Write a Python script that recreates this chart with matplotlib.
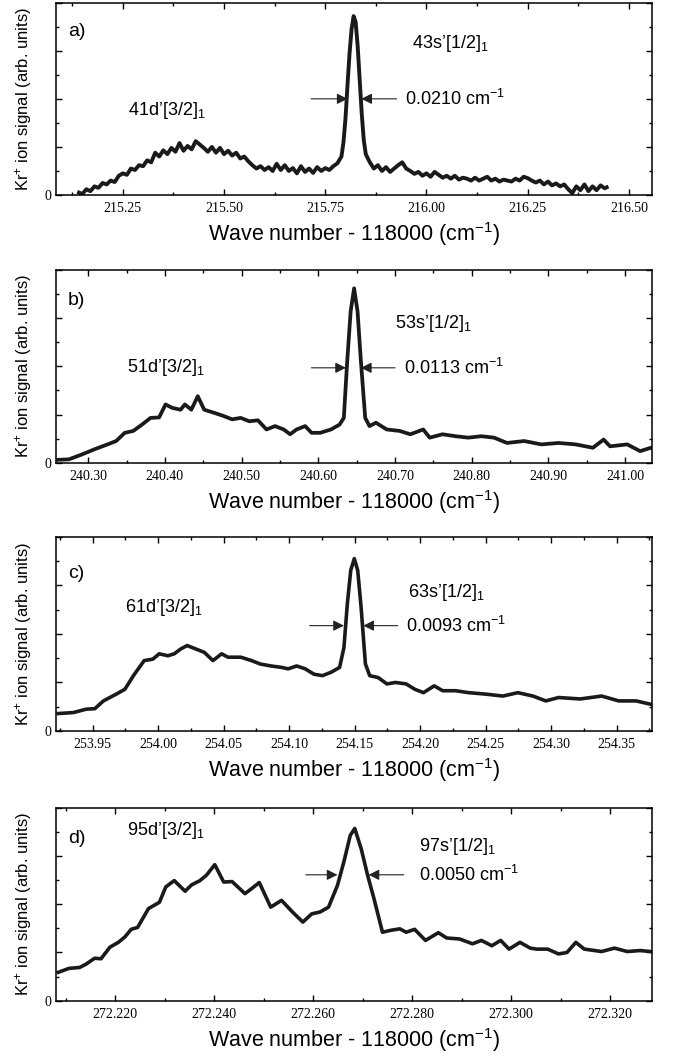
import matplotlib
matplotlib.use('Agg')
import matplotlib.pyplot as plt
from matplotlib.ticker import MultipleLocator, FormatStrFormatter

plt.rcParams['font.family'] = 'Liberation Sans'
plt.rcParams['mathtext.fontset'] = 'custom'
plt.rcParams['mathtext.rm'] = 'Liberation Sans'
plt.rcParams['mathtext.it'] = 'Liberation Sans:italic'
plt.rcParams['mathtext.bf'] = 'Liberation Sans:bold'

# ---- data (wave number - 118000, signal in arb. units) ----
x_a = [215.142, 215.15, 215.16, 215.17, 215.18, 215.19, 215.20, 215.21, 215.22, 215.23,
       215.24, 215.25, 215.26, 215.27, 215.28, 215.29, 215.30, 215.31, 215.32, 215.33,
       215.34, 215.35, 215.36, 215.37, 215.38, 215.39, 215.40, 215.41, 215.42, 215.43,
       215.44, 215.45, 215.46, 215.47, 215.48, 215.49, 215.50, 215.51, 215.52, 215.53,
       215.54, 215.55, 215.56, 215.57, 215.58, 215.59, 215.60, 215.61, 215.62, 215.63,
       215.64, 215.65, 215.66, 215.67, 215.68, 215.69, 215.70, 215.71, 215.72, 215.73,
       215.74, 215.75, 215.76, 215.77, 215.78, 215.79, 215.795, 215.80, 215.805, 215.81,
       215.815, 215.82, 215.825, 215.83, 215.835, 215.84, 215.845, 215.85, 215.86, 215.87,
       215.88, 215.89, 215.90, 215.91, 215.92, 215.93, 215.94, 215.95, 215.96, 215.97,
       215.98, 215.99, 216.00, 216.01, 216.02, 216.03, 216.04, 216.05, 216.06, 216.07,
       216.08, 216.09, 216.10, 216.11, 216.12, 216.13, 216.14, 216.15, 216.16, 216.17,
       216.18, 216.19, 216.20, 216.21, 216.22, 216.23, 216.24, 216.25, 216.26, 216.27,
       216.28, 216.29, 216.30, 216.31, 216.32, 216.33, 216.34, 216.35, 216.36, 216.37,
       216.38, 216.39, 216.40, 216.41, 216.42, 216.43, 216.44, 216.445]
y_a = [0.05, 0.02, 0.12, 0.08, 0.18, 0.15, 0.25, 0.22, 0.30, 0.27,
       0.40, 0.45, 0.42, 0.55, 0.52, 0.62, 0.60, 0.72, 0.68, 0.88,
       0.80, 0.93, 0.85, 0.98, 0.90, 1.08, 0.92, 1.02, 0.95, 1.12,
       1.05, 0.98, 0.90, 1.00, 0.88, 0.98, 0.85, 0.92, 0.82, 0.88,
       0.76, 0.80, 0.70, 0.62, 0.55, 0.60, 0.52, 0.58, 0.50, 0.65,
       0.52, 0.62, 0.50, 0.56, 0.45, 0.60, 0.48, 0.55, 0.46, 0.58,
       0.50, 0.56, 0.52, 0.60, 0.66, 0.80, 1.10, 1.60, 2.30, 2.95,
       3.45, 3.72, 3.60, 3.10, 2.40, 1.70, 1.15, 0.85, 0.68, 0.55,
       0.62, 0.50, 0.58, 0.48, 0.55, 0.62, 0.68, 0.55, 0.50, 0.44,
       0.48, 0.40, 0.45, 0.38, 0.48, 0.42, 0.36, 0.40, 0.34, 0.40,
       0.32, 0.36, 0.34, 0.30, 0.36, 0.30, 0.34, 0.38, 0.30, 0.34,
       0.28, 0.32, 0.30, 0.28, 0.34, 0.30, 0.38, 0.35, 0.30, 0.26,
       0.30, 0.22, 0.28, 0.20, 0.24, 0.18, 0.22, 0.12, 0.04, 0.18,
       0.10, 0.22, 0.08, 0.18, 0.10, 0.20, 0.14, 0.16]

x_b = [240.2608, 240.2748, 240.2916, 240.3084, 240.3252, 240.3364, 240.3476, 240.3588,
       240.3700, 240.3812, 240.3924, 240.4008, 240.4092, 240.4204, 240.4260, 240.4344,
       240.4428, 240.4512, 240.4652, 240.4764, 240.4876, 240.4988, 240.5100, 240.5212,
       240.5324, 240.5436, 240.5548, 240.5632, 240.5716, 240.5828, 240.5912, 240.6024,
       240.6164, 240.6276, 240.6332, 240.6376, 240.6421, 240.6466, 240.6511, 240.6555,
       240.6611, 240.6667, 240.6751, 240.6891, 240.7059, 240.7199, 240.7367, 240.7451,
       240.7619, 240.7787, 240.7955, 240.8123, 240.8291, 240.8459, 240.8683, 240.8907,
       240.9131, 240.9355, 240.9579, 240.9719, 240.9803, 241.0027, 241.0195, 241.0335]
y_b = [0.06, 0.07, 0.17, 0.28, 0.38, 0.45, 0.62, 0.66,
       0.79, 0.93, 0.94, 1.21, 1.14, 1.10, 1.21, 1.10,
       1.38, 1.10, 1.03, 0.97, 0.90, 0.93, 0.86, 0.88,
       0.69, 0.76, 0.69, 0.59, 0.69, 0.76, 0.62, 0.62,
       0.69, 0.79, 0.93, 2.10, 3.14, 3.62, 3.14, 2.10,
       0.93, 0.76, 0.83, 0.69, 0.66, 0.59, 0.69, 0.52,
       0.59, 0.55, 0.52, 0.55, 0.52, 0.41, 0.45, 0.38,
       0.41, 0.38, 0.31, 0.48, 0.34, 0.38, 0.24, 0.31]

x_c = [253.9238, 253.9352, 253.9451, 253.9516, 253.9582, 253.9680, 253.9746, 253.9811,
       253.9893, 253.9959, 254.0008, 254.0074, 254.0123, 254.0172, 254.0221, 254.0287,
       254.0352, 254.0418, 254.0484, 254.0533, 254.0631, 254.0713, 254.0779, 254.0861,
       254.0943, 254.0992, 254.1057, 254.1123, 254.1189, 254.1254, 254.1320, 254.1385,
       254.1418, 254.1444, 254.1470, 254.1497, 254.1523, 254.1549, 254.1582, 254.1615,
       254.1680, 254.1746, 254.1811, 254.1893, 254.1959, 254.2025, 254.2107, 254.2172,
       254.2270, 254.2369, 254.2500, 254.2631, 254.2746, 254.2861, 254.2959, 254.3057,
       254.3221, 254.3385, 254.3516, 254.3648, 254.3762]
y_c = [0.36, 0.38, 0.45, 0.46, 0.62, 0.76, 0.86, 1.14,
       1.45, 1.48, 1.59, 1.55, 1.59, 1.69, 1.76, 1.69,
       1.62, 1.45, 1.59, 1.52, 1.52, 1.45, 1.38, 1.34,
       1.31, 1.28, 1.34, 1.28, 1.17, 1.14, 1.21, 1.31,
       1.72, 2.62, 3.31, 3.55, 3.31, 2.55, 1.38, 1.14,
       1.10, 0.97, 1.00, 0.97, 0.86, 0.79, 0.93, 0.83,
       0.83, 0.79, 0.76, 0.72, 0.79, 0.72, 0.62, 0.69,
       0.66, 0.72, 0.62, 0.62, 0.55]

x_d = [272.2085, 272.2106, 272.2128, 272.2141, 272.2158, 272.2171, 272.2189, 272.2206,
       272.2219, 272.2232, 272.2245, 272.2267, 272.2289, 272.2302, 272.2319, 272.2341,
       272.2354, 272.2371, 272.2384, 272.2401, 272.2419, 272.2436, 272.2462, 272.2475,
       272.2491, 272.2514, 272.2536, 272.2558, 272.2579, 272.2597, 272.2614, 272.2631,
       272.2649, 272.2662, 272.2675, 272.2684, 272.2697, 272.2710, 272.2723, 272.2740,
       272.2757, 272.2775, 272.2788, 272.2805, 272.2827, 272.2853, 272.2870, 272.2896,
       272.2922, 272.2940, 272.2961, 272.2979, 272.2996, 272.3018, 272.3039, 272.3052,
       272.3074, 272.3096, 272.3113, 272.3131, 272.3148, 272.3183, 272.3209, 272.3235,
       272.3261, 272.3282]
y_d = [0.59, 0.67, 0.69, 0.76, 0.88, 0.87, 1.11, 1.21,
       1.32, 1.48, 1.52, 1.91, 2.04, 2.36, 2.49, 2.27,
       2.40, 2.49, 2.60, 2.82, 2.46, 2.47, 2.22, 2.32,
       2.45, 1.94, 2.08, 1.84, 1.63, 1.80, 1.84, 1.94,
       2.39, 2.88, 3.43, 3.57, 3.15, 2.60, 2.11, 1.42,
       1.46, 1.49, 1.42, 1.48, 1.25, 1.41, 1.30, 1.28,
       1.18, 1.25, 1.14, 1.25, 1.07, 1.21, 1.09, 1.07,
       1.07, 0.97, 1.00, 1.21, 1.07, 1.02, 1.09, 1.02,
       1.04, 1.02]

panels = [
    dict(x=x_a, y=y_a, xlim=(215.085, 216.557), major=0.25, minor=0.125, fmt='%.2f',
         tag='a)', tag_y=0.85, broad="41d’[3/2]$_1$", broad_xy=(215.263, 1.75),
         sharp="43s’[1/2]$_1$", sharp_xy=(215.963, 3.15),
         arrow_y=2.0, left=(215.715, 215.805), right=(215.839, 215.926),
         width_txt='0.0210 cm$^{-1}$', width_x=215.947, lw=2.8,
         rect=[0.0831, 0.8162, 0.8843, 0.1813]),
    dict(x=x_b, y=y_b, xlim=(240.258, 241.035), major=0.1, minor=0.05, fmt='%.2f',
         tag='b)', tag_y=0.84, broad="51d’[3/2]$_1$", broad_xy=(240.35, 1.97),
         sharp="53s’[1/2]$_1$", sharp_xy=(240.70, 2.9),
         arrow_y=1.97, left=(240.591, 240.636), right=(240.6555, 240.70),
         width_txt='0.0113 cm$^{-1}$', width_x=240.712, lw=2.7,
         rect=[0.0831, 0.5639, 0.8843, 0.1816]),
    dict(x=x_c, y=y_c, xlim=(253.922, 254.377), major=0.05, minor=0.025, fmt='%.2f',
         tag='c)', tag_y=0.81, broad="61d’[3/2]$_1$", broad_xy=(253.975, 2.55),
         sharp="63s’[1/2]$_1$", sharp_xy=(254.191, 2.86),
         arrow_y=2.17, left=(254.1156, 254.1418), right=(254.1566, 254.1828),
         width_txt='0.0093 cm$^{-1}$', width_x=254.189, lw=2.6,
         rect=[0.0831, 0.3110, 0.8843, 0.1831]),
    dict(x=x_d, y=y_d, xlim=(272.208, 272.3285), major=0.02, minor=0.01, fmt='%.3f',
         tag='d)', tag_y=0.84, broad="95d’[3/2]$_1$", broad_xy=(272.2223, 3.53),
         sharp="97s’[1/2]$_1$", sharp_xy=(272.2814, 3.19),
         arrow_y=2.61, left=(272.2585, 272.2649), right=(272.2712, 272.2783),
         width_txt='0.0050 cm$^{-1}$', width_x=272.2814, lw=2.6,
         rect=[0.0831, 0.0568, 0.8843, 0.1819]),
]

fig = plt.figure(figsize=(6.74, 10.61), dpi=100)

for p in panels:
    ax = fig.add_axes(p['rect'])
    ax.plot(p['x'], p['y'], color='#1a1a1a', lw=p['lw'], solid_joinstyle='round')
    ax.set_xlim(*p['xlim'])
    ax.set_ylim(0, 4)

    ax.xaxis.set_major_locator(MultipleLocator(p['major']))
    ax.xaxis.set_minor_locator(MultipleLocator(p['minor']))
    ax.xaxis.set_major_formatter(FormatStrFormatter(p['fmt']))
    ax.set_yticks([0, 1, 2, 3, 4])
    ax.set_yticklabels(['0', '', '', '', ''])
    ax.yaxis.set_minor_locator(MultipleLocator(0.5))
    ax.tick_params(which='both', direction='in', top=True, right=True, width=1.0)
    ax.tick_params(which='major', length=4.5, pad=5)
    ax.tick_params(which='minor', length=2.5)
    ax.tick_params(axis='y', pad=3)
    for lab in ax.get_xticklabels() + ax.get_yticklabels():
        lab.set_fontfamily('Liberation Serif')
        lab.set_fontsize(10)
    for s in ax.spines.values():
        s.set_linewidth(1.1)

    ax.set_xlabel('Wave number - 118000 (cm$^{-1}$)', fontsize=15.5, labelpad=4)
    ax.text(-0.055, 0.5, 'Kr$^{+}$ ion signal (arb. units)', transform=ax.transAxes,
            rotation=90, ha='center', va='center', fontsize=12)

    ax.text(0.02, p['tag_y'], p['tag'], transform=ax.transAxes, fontsize=14, va='center')
    ax.text(p['broad_xy'][0], p['broad_xy'][1], p['broad'], fontsize=13, va='center')
    ax.text(p['sharp_xy'][0], p['sharp_xy'][1], p['sharp'], fontsize=13, va='center')

    # FWHM arrows
    ax.annotate('', xy=(p['left'][1], p['arrow_y']), xytext=(p['left'][0], p['arrow_y']),
                arrowprops=dict(arrowstyle='-|>', color='#222222', lw=0.8,
                                mutation_scale=16, shrinkA=0, shrinkB=0))
    ax.annotate('', xy=(p['right'][0], p['arrow_y']), xytext=(p['right'][1], p['arrow_y']),
                arrowprops=dict(arrowstyle='-|>', color='#222222', lw=0.8,
                                mutation_scale=16, shrinkA=0, shrinkB=0))
    ax.text(p['width_x'], p['arrow_y'], p['width_txt'], fontsize=13, va='center')

fig.savefig('out.png', dpi=100)
